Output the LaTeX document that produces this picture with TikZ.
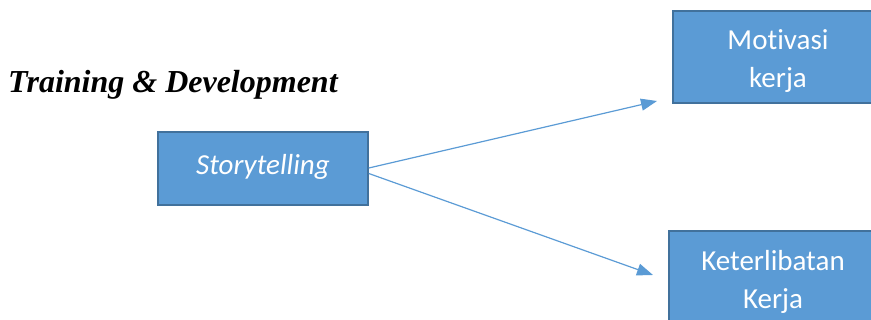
\documentclass[tikz,border=0pt]{standalone}
\usepackage{fontspec}
\setmainfont{Liberation Serif}
\newfontfamily\boxfont[Ligatures=NoCommon]{Carlito}
\usetikzlibrary{arrows.meta}
\definecolor{boxfill}{HTML}{5B9BD5}
\definecolor{boxline}{HTML}{41719C}
\tikzset{
  bluebox/.style={draw=boxline, line width=1.6pt, fill=boxfill, inner sep=0pt},
  boxtext/.style={text=white, inner sep=0pt, align=center, font=\boxfont\fontsize{29}{38}\selectfont},
  link/.style={draw=boxfill, line width=1.2pt, -{Triangle[length=16pt,width=12pt]}}
}
\begin{document}
\begin{tikzpicture}[x=1pt,y=-1pt]
\useasboundingbox (0,0) rectangle (871,320);
\clip (0,0) rectangle (871,320);
\node[bluebox, minimum width=210pt, minimum height=73pt] (story) at (263,168.5) {};
\node[boxtext] (storytext) at ([yshift=2pt]story.center) {\itshape Storytelling};
\node[bluebox, minimum width=210pt, minimum height=92pt] (motiv) at (778,57) {};
\node[boxtext] (motivtext) at ([yshift=-4pt]motiv.center) {Motivasi\\kerja};
\node[bluebox, minimum width=208pt, minimum height=92pt] (keter) at (773,277) {};
\node[boxtext] (ketertext) at ([yshift=-5pt]keter.center) {Keterlibatan\\Kerja};
\node[anchor=base west, inner sep=0pt, font=\fontsize{32}{36}\selectfont\bfseries\itshape] (title) at (8,93) {Training \& Development};
\coordinate (tip1) at (657,101);
\coordinate (tip2) at (653,275);
\draw[link] ([yshift=0.5pt]story.east) -- (tip1);
\draw[link] ([yshift=-5pt]story.east) -- (tip2);
\end{tikzpicture}
\end{document}
